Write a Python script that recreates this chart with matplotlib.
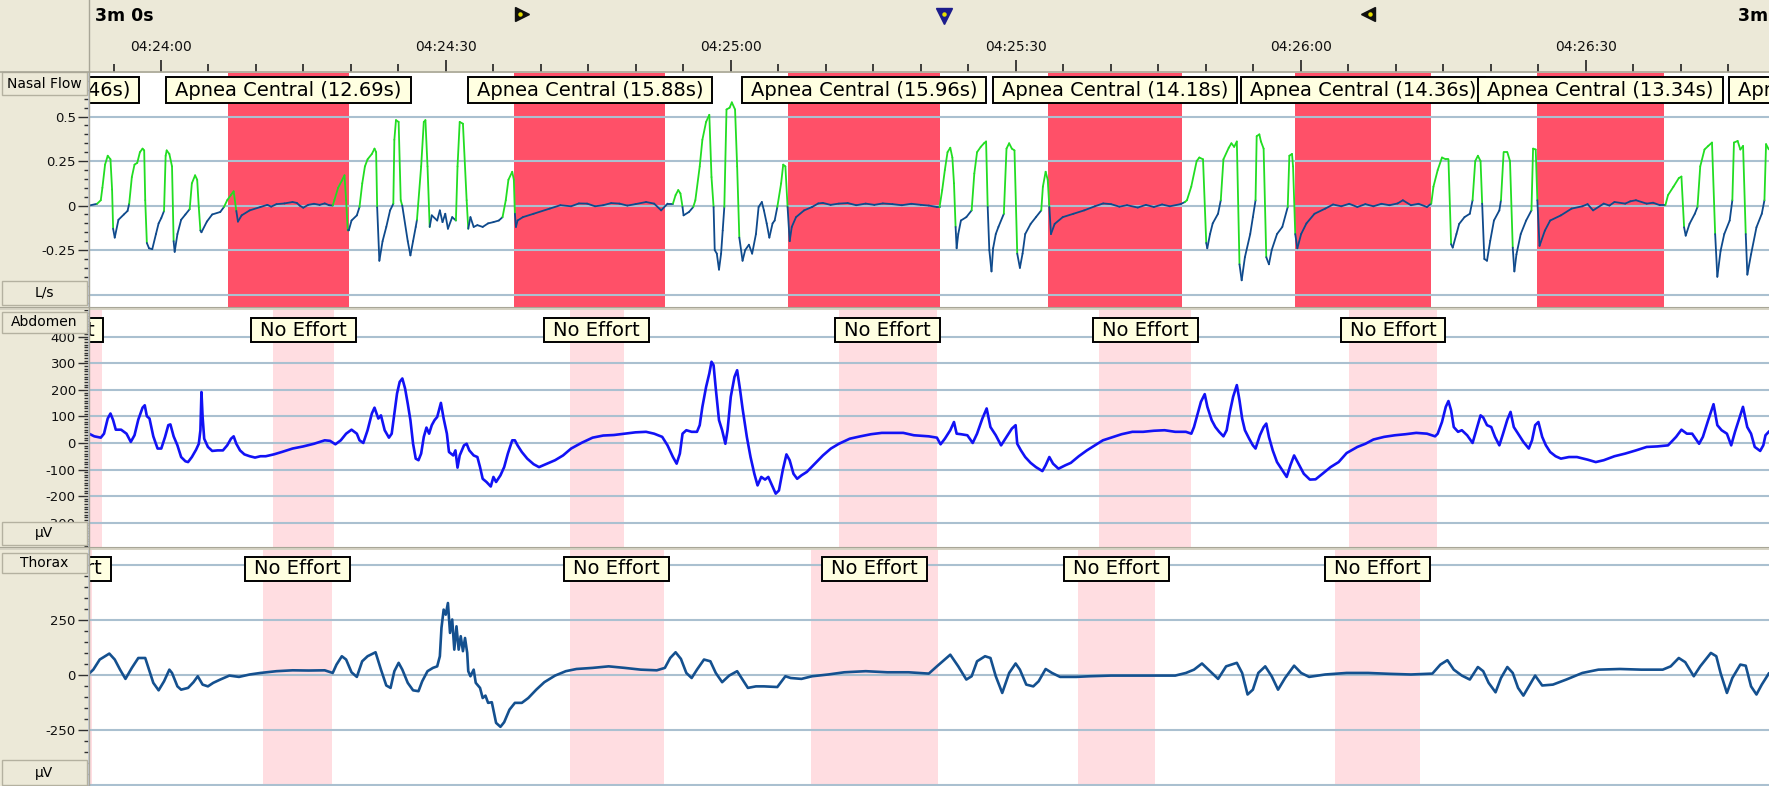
import numpy as np
import matplotlib
matplotlib.use("Agg")
import matplotlib.pyplot as plt
import matplotlib.transforms as mtrans
from matplotlib.collections import LineCollection
from matplotlib.patches import Rectangle
from matplotlib.ticker import MultipleLocator

plt.rcParams['font.family'] = ['DejaVu Sans']

W, H, DPI = 1769, 786, 100

# ---------------------------------------------------------------- time axis
# seconds relative to 04:24:00
view_start, view_end = -7.58, 169.3
tick_secs = [0, 30, 60, 90, 120, 150]
tick_labels = ["04:24:00", "04:24:30", "04:25:00", "04:25:30", "04:26:00", "04:26:30"]
cursor_secs = [38.0, 82.4, 127.1]
window_label = "3m 0s"

# ---------------------------------------------------------------- scored events
apnea_start = [-21.9, 7.08, 37.21, 66.02, 93.36, 119.37, 144.88, 171.0]
apnea_dur = [13.46, 12.69, 15.88, 15.96, 14.18, 14.36, 13.34, 13.90]

abd_effort_start = [-17.0, 11.76, 43.06, 71.37, 98.77, 125.10]
abd_effort_end = [-6.17, 18.19, 48.70, 81.69, 108.47, 134.30]
thx_effort_start = [-14.3, 10.75, 43.06, 68.40, 96.57, 123.64]
thx_effort_end = [-7.30, 17.97, 52.93, 81.80, 104.64, 132.55]

# ---------------------------------------------------------------- Nasal Flow (L/s)
flow_t = [
    -7.58, -6.73, -6.34, -6.17, -5.89, -5.61, -5.32, -5.15, -5.04, -4.87,
    -4.48, -3.91, -3.52, -3.35, -3.07, -2.79, -2.50, -2.22, -1.94, -1.77,
    -1.66, -1.49, -1.26, -0.92, -0.53, -0.25, 0.03, 0.32, 0.49, 0.60,
    0.88, 1.16, 1.33, 1.44, 1.73, 2.12, 2.57, 3.02, 3.25, 3.59,
    3.81, 3.98, 4.15, 4.26, 4.83, 5.39, 6.24, 6.63, 6.97, 7.37,
    7.65, 7.93, 8.10, 8.49, 9.34, 10.47, 11.20, 11.60, 12.16, 13.00,
    13.85, 14.30, 14.60, 14.98, 15.50, 16.11, 16.70, 17.24, 17.70, 18.08,
    18.25, 18.65, 19.04, 19.32, 19.49, 19.66, 19.77, 20.06, 20.62, 20.90,
    21.19, 21.47, 21.75, 22.20, 22.48, 22.65, 22.76, 22.99, 23.33, 23.72,
    24.12, 24.46, 24.57, 24.74, 25.02, 25.24, 25.40, 25.98, 26.26, 26.54,
    26.82, 26.95, 27.39, 27.67, 27.84, 28.06, 28.29, 28.51, 29.08, 29.36,
    29.64, 29.93, 30.21, 30.66, 31.05, 31.22, 31.45, 31.79, 32.18, 32.35,
    32.58, 32.92, 33.31, 33.87, 34.44, 35.00, 35.57, 35.96, 36.30, 36.58,
    36.98, 37.15, 37.26, 37.37, 37.54, 38.10, 39.23, 40.93, 42.05, 43.18,
    44.00, 44.87, 45.70, 46.56, 47.40, 48.26, 49.10, 49.95, 51.07, 51.92,
    52.66, 53.33, 53.90, 54.18, 54.46, 54.69, 54.91, 55.02, 55.59, 56.04,
    56.26, 56.72, 57.00, 57.39, 57.73, 57.96, 58.18, 58.30, 58.52, 58.75,
    58.97, 59.14, 59.31, 59.54, 59.87, 60.10, 60.44, 60.66, 60.89, 61.23,
    61.51, 61.90, 62.24, 62.64, 62.92, 63.26, 63.48, 63.77, 64.05, 64.39,
    64.61, 64.89, 65.29, 65.51, 65.74, 65.97, 66.19, 66.41, 66.86, 67.71,
    68.55, 69.20, 69.68, 70.50, 71.37, 72.30, 73.20, 74.19, 75.10, 76.00,
    77.01, 78.00, 79.00, 80.00, 80.84, 81.69, 81.97, 82.25, 82.53, 82.81,
    83.10, 83.32, 83.49, 83.66, 83.77, 83.94, 84.22, 84.79, 85.35, 85.63,
    85.92, 86.31, 86.65, 86.87, 87.04, 87.21, 87.44, 87.61, 87.89, 88.17,
    88.74, 89.02, 89.30, 89.58, 89.86, 90.15, 90.43, 90.71, 90.99, 91.56,
    92.12, 92.68, 92.85, 93.14, 93.36, 93.53, 93.70, 94.09, 94.94, 96.07,
    97.20, 98.32, 99.20, 100.02, 100.90, 101.71, 102.84, 103.70, 104.53, 105.40,
    106.22, 107.35, 107.80, 108.02, 108.47, 109.04, 109.32, 109.71, 110.05, 110.16,
    110.45, 110.73, 111.29, 111.58, 111.86, 112.42, 112.70, 112.99, 113.27, 113.55,
    113.78, 114.12, 114.68, 114.96, 115.24, 115.36, 115.64, 115.81, 116.09, 116.37,
    116.65, 116.94, 117.50, 118.06, 118.63, 118.80, 119.08, 119.19, 119.42, 119.64,
    120.04, 120.60, 121.45, 122.58, 123.40, 124.27, 125.10, 125.96, 126.80, 127.65,
    128.50, 129.34, 130.20, 130.75, 131.60, 132.40, 133.29, 133.74, 133.97, 134.42,
    134.87, 135.27, 135.55, 135.83, 136.00, 136.39, 136.68, 137.24, 137.80, 138.09,
    138.37, 138.65, 138.93, 139.10, 139.33, 139.61, 139.95, 140.34, 140.91, 141.08,
    141.36, 141.75, 142.03, 142.32, 142.49, 142.71, 143.16, 143.73, 144.29, 144.46,
    144.74, 144.91, 145.14, 145.70, 146.26, 147.39, 148.52, 149.65, 150.20, 150.78,
    151.90, 152.50, 153.03, 154.16, 154.70, 155.29, 156.42, 157.10, 157.82, 158.39,
    158.67, 159.24, 159.80, 160.08, 160.36, 160.53, 160.93, 161.49, 161.77, 162.06,
    162.51, 162.90, 163.30, 163.63, 163.86, 164.20, 164.59, 165.16, 165.44, 165.61,
    166.00, 166.28, 166.57, 166.85, 167.02, 167.41, 167.98, 168.54, 168.82, 168.99,
    169.27,
]
flow_v = [
    0.00, 0.01, 0.03, 0.10, 0.23, 0.28, 0.26, 0.09, -0.13, -0.18,
    -0.08, -0.05, -0.03, 0.01, 0.16, 0.23, 0.24, 0.30, 0.32, 0.31,
    0.03, -0.21, -0.24, -0.245, -0.16, -0.10, -0.07, -0.03, 0.28, 0.31,
    0.29, 0.22, -0.20, -0.26, -0.16, -0.08, -0.05, -0.02, 0.125, 0.17,
    0.145, -0.01, -0.14, -0.15, -0.09, -0.05, -0.036, -0.008, 0.03, 0.06,
    0.08, -0.03, -0.09, -0.055, -0.027, -0.008, 0.004, -0.006, 0.008, 0.012,
    0.02, 0.015, 0.0, -0.012, 0.004, 0.01, 0.004, 0.012, 0.002, 0.0,
    0.03, 0.10, 0.14, 0.17, 0.03, -0.14, -0.14, -0.084, -0.055, -0.008,
    0.125, 0.22, 0.26, 0.29, 0.32, 0.30, -0.01, -0.31, -0.20, -0.12,
    -0.027, 0.01, 0.37, 0.48, 0.47, 0.03, 0.0, -0.20, -0.28, -0.20,
    -0.12, -0.08, 0.22, 0.47, 0.48, 0.22, -0.12, -0.055, -0.084, -0.027,
    -0.093, -0.046, -0.13, -0.065, -0.084, 0.22, 0.47, 0.46, 0.03, -0.13,
    -0.065, -0.12, -0.11, -0.12, -0.10, -0.093, -0.084, -0.065, 0.03, 0.145,
    0.19, 0.145, -0.046, -0.12, -0.084, -0.065, -0.046, -0.017, 0.002, -0.004,
    0.012, 0.011, -0.004, 0.002, 0.014, 0.011, 0.0, 0.008, 0.02, 0.011,
    -0.027, 0.011, 0.011, 0.059, 0.087, 0.068, -0.008, -0.055, -0.036, -0.008,
    0.03, 0.22, 0.37, 0.47, 0.51, 0.16, -0.008, -0.25, -0.27, -0.36,
    -0.27, -0.14, -0.008, 0.54, 0.55, 0.58, 0.54, 0.22, -0.18, -0.31,
    -0.25, -0.22, -0.27, -0.16, -0.008, 0.02, -0.027, -0.10, -0.18, -0.10,
    -0.084, -0.008, 0.125, 0.23, 0.22, -0.008, -0.20, -0.12, -0.065, -0.027,
    -0.008, 0.012, 0.015, 0.004, 0.011, 0.014, 0.002, 0.011, 0.004, 0.012,
    0.008, 0.002, 0.01, 0.004, 0.0, -0.008, -0.008, 0.087, 0.20, 0.30,
    0.325, 0.27, 0.125, -0.12, -0.24, -0.16, -0.084, -0.065, -0.027, 0.18,
    0.30, 0.33, 0.35, 0.36, -0.008, -0.25, -0.37, -0.24, -0.16, -0.12,
    -0.046, 0.32, 0.35, 0.32, 0.31, -0.27, -0.35, -0.27, -0.16, -0.103,
    -0.065, -0.027, 0.106, 0.19, 0.145, -0.008, -0.16, -0.103, -0.065, -0.046,
    -0.027, -0.004, 0.012, 0.008, -0.006, 0.002, -0.011, 0.004, -0.008, 0.006,
    -0.004, 0.008, 0.02, 0.03, 0.106, 0.25, 0.27, 0.26, -0.21, -0.24,
    -0.16, -0.10, -0.046, 0.03, 0.26, 0.325, 0.35, 0.33, 0.36, -0.33,
    -0.42, -0.29, -0.16, -0.065, 0.03, 0.39, 0.40, 0.36, 0.32, -0.29,
    -0.33, -0.25, -0.16, -0.12, -0.008, 0.28, 0.29, 0.22, -0.16, -0.24,
    -0.16, -0.10, -0.046, -0.017, 0.006, -0.004, 0.01, -0.008, 0.008, -0.004,
    0.01, 0.002, 0.012, 0.03, 0.002, 0.01, -0.008, 0.011, 0.106, 0.20,
    0.27, 0.26, 0.26, -0.217, -0.236, -0.16, -0.103, -0.065, -0.046, 0.03,
    0.25, 0.28, 0.25, 0.011, -0.30, -0.31, -0.198, -0.084, -0.027, 0.03,
    0.30, 0.30, 0.25, -0.236, -0.37, -0.274, -0.16, -0.084, -0.027, 0.32,
    0.315, 0.03, -0.226, -0.141, -0.084, -0.055, -0.017, -0.004, 0.008, -0.027,
    0.011, 0.0, 0.02, 0.011, 0.024, 0.03, 0.011, 0.016, 0.002, 0.002,
    0.059, 0.106, 0.154, 0.163, -0.122, -0.169, -0.103, -0.046, -0.008, 0.22,
    0.315, 0.335, 0.354, -0.16, -0.40, -0.255, -0.16, -0.084, 0.03, 0.354,
    0.363, 0.315, 0.335, -0.16, -0.388, -0.274, -0.122, -0.046, 0.03, 0.345,
    0.316,
]
# inspiratory phases of the flow signal (drawn in green)
insp_start = [-6.73, -3.35, 0.32, 3.02, 6.63, 18.08, 20.90, 24.46, 26.95, 31.05,
              35.96, 53.90, 56.04, 59.31, 64.89, 81.97, 85.35, 88.74, 92.68, 107.80,
              111.58, 115.24, 118.63, 133.74, 138.09, 141.08, 144.29, 158.39, 161.77, 165.44,
              168.82]
insp_end = [-5.04, -1.49, 1.33, 4.15, 7.93, 19.66, 22.76, 25.40, 28.29, 32.35,
            37.26, 54.91, 58.18, 60.89, 65.97, 83.66, 87.04, 90.15, 93.53, 110.05,
            113.55, 116.37, 119.42, 135.83, 139.10, 142.32, 144.91, 160.36, 163.63, 166.85,
            169.40]

# ---------------------------------------------------------------- Abdomen (uV)
abd_t = [
    -7.58, -7.02, -6.34, -6.00, -5.61, -5.32, -5.04, -4.76, -4.20, -3.63,
    -3.18, -2.79, -2.39, -1.94, -1.71, -1.49, -1.21, -0.81, -0.36, 0.03,
    0.43, 0.77, 0.99, 1.33, 1.73, 2.12, 2.57, 2.85, 3.25, 3.70,
    3.98, 4.15, 4.26, 4.38, 4.55, 4.94, 5.39, 5.96, 6.52, 6.97,
    7.37, 7.65, 7.93, 8.32, 8.78, 9.34, 9.90, 10.47, 11.03, 11.88,
    12.72, 13.85, 14.98, 16.11, 17.24, 17.80, 18.36, 18.93, 19.49, 20.06,
    20.62, 20.90, 21.30, 21.75, 22.20, 22.48, 22.88, 23.16, 23.55, 24.00,
    24.29, 24.57, 24.85, 25.13, 25.41, 25.70, 25.98, 26.26, 26.54, 26.82,
    27.11, 27.39, 27.67, 27.95, 28.23, 28.51, 28.80, 29.08, 29.47, 29.76,
    30.10, 30.32, 30.77, 31.00, 31.22, 31.45, 31.90, 32.18, 32.46, 32.92,
    33.31, 33.59, 33.87, 34.27, 34.72, 35.00, 35.28, 35.74, 36.13, 36.52,
    36.98, 37.26, 37.54, 37.99, 38.56, 39.23, 39.80, 40.64, 41.49, 42.33,
    43.18, 44.31, 45.44, 46.56, 47.69, 48.82, 49.95, 51.07, 51.92, 52.77,
    53.33, 53.90, 54.29, 54.63, 54.91, 55.31, 55.87, 56.43, 56.72, 57.00,
    57.39, 57.73, 57.96, 58.18, 58.41, 58.75, 59.08, 59.42, 59.65, 59.99,
    60.38, 60.66, 60.95, 61.23, 61.68, 62.07, 62.47, 62.81, 63.20, 63.60,
    63.94, 64.33, 64.72, 65.06, 65.46, 65.85, 66.19, 66.59, 66.98, 67.43,
    68.00, 68.84, 69.69, 70.53, 71.38, 72.51, 73.64, 74.76, 75.89, 77.02,
    78.15, 79.27, 80.84, 81.69, 82.08, 82.53, 83.10, 83.49, 83.77, 84.22,
    84.90, 85.46, 85.92, 86.48, 86.93, 87.33, 87.89, 88.45, 89.02, 89.58,
    89.98, 90.15, 90.54, 90.99, 91.56, 92.12, 92.80, 93.14, 93.53, 93.92,
    94.49, 95.22, 95.79, 96.63, 97.48, 98.32, 99.17, 100.02, 101.14, 102.27,
    103.40, 104.53, 105.66, 106.78, 107.91, 108.48, 108.76, 109.15, 109.49, 109.89,
    110.17, 110.62, 111.01, 111.41, 111.86, 112.20, 112.54, 112.88, 113.27, 113.55,
    113.83, 114.12, 114.57, 114.96, 115.24, 115.70, 116.09, 116.37, 116.65, 117.05,
    117.50, 118.06, 118.52, 118.91, 119.30, 119.76, 120.32, 120.96, 121.56, 122.29,
    123.14, 123.99, 124.83, 125.96, 126.81, 127.65, 128.78, 129.91, 131.04, 132.16,
    133.29, 134.14, 134.42, 134.87, 135.27, 135.55, 135.83, 136.11, 136.56, 136.96,
    137.52, 138.09, 138.48, 138.93, 139.21, 139.61, 140.06, 140.45, 140.91, 141.30,
    141.75, 142.09, 142.43, 142.88, 143.44, 144.01, 144.35, 144.68, 145.02, 145.42,
    145.81, 146.26, 146.83, 147.39, 148.24, 149.08, 150.21, 151.06, 151.90, 153.03,
    154.16, 155.29, 156.42, 157.54, 158.67, 159.52, 160.08, 160.65, 161.21, 161.94,
    162.34, 162.90, 163.46, 163.86, 164.31, 164.87, 165.32, 165.72, 166.11, 166.56,
    167.01, 167.41, 167.80, 168.37, 168.70, 168.93, 169.27,
]
abd_v = [
    35, 25, 20, 35, 92, 111, 86, 50, 50, 35,
    4, 29, 88, 133, 142, 101, 92, 25, -21, -21,
    23, 67, 70, 25, -9, -53, -69, -72, -53, -25,
    -3, 48, 192, 98, 16, -15, -30, -28, -28, -9,
    16, 25, -3, -28, -43, -50, -55, -50, -50, -43,
    -34, -21, -13, -3, 10, 8, -5, 10, 35, 50,
    35, 10, 0, 48, 111, 133, 92, 104, 48, 20,
    35, 111, 186, 230, 243, 205, 148, 86, -3, -59,
    -65, -40, 23, 58, 35, 67, 86, 98, 151, 92,
    35, -34, -47, -28, -93, -47, -9, -3, -28, -47,
    -53, -91, -135, -147, -164, -128, -147, -122, -91, -40,
    10, 10, -9, -34, -59, -80, -91, -78, -65, -47,
    -21, 1, 20, 28, 30, 35, 40, 42, 35, 23,
    -9, -53, -78, -40, 35, 48, 42, 42, 67, 136,
    211, 262, 306, 293, 205, 86, 48, -3, 48, 174,
    249, 274, 205, 130, 23, -53, -116, -160, -128, -138,
    -128, -160, -191, -179, -103, -43, -65, -116, -135, -122,
    -109, -78, -47, -21, -3, 16, 25, 33, 38, 38,
    38, 29, 25, 20, -5, 16, 48, 79, 35, 33,
    29, 0, 35, 92, 130, 60, 29, -9, 23, 54,
    67, -3, -28, -53, -75, -91, -106, -84, -53, -78,
    -97, -84, -75, -50, -28, -9, 10, 20, 33, 42,
    42, 46, 48, 42, 42, 35, 60, 111, 155, 184,
    136, 86, 60, 42, 25, 48, 117, 174, 218, 161,
    92, 48, 16, -9, -21, 29, 60, 73, 23, -28,
    -72, -103, -128, -84, -47, -78, -116, -138, -137, -116,
    -91, -72, -38, -15, -3, 13, 23, 29, 33, 38,
    35, 25, 35, 79, 136, 158, 123, 60, 42, 48,
    29, 0, 48, 104, 96, 67, 60, 23, -9, 35,
    88, 117, 60, 35, 4, -21, 10, 67, 79, 23,
    -9, -34, -50, -59, -53, -53, -63, -72, -65, -50,
    -40, -28, -15, -13, -9, 23, 50, 35, 35, -3,
    23, 86, 146, 67, 48, 35, -9, 42, 86, 136,
    60, 35, -15, -30, -9, 29, 42,
]

# ---------------------------------------------------------------- Thorax (uV)
thx_t = [
    -7.58, -7.13, -6.45, -5.44, -4.87, -4.31, -3.74, -3.07, -2.39, -1.66,
    -1.26, -0.81, -0.25, 0.32, 0.88, 1.16, 1.73, 2.12, 2.85, 3.42,
    3.87, 4.38, 4.94, 5.50, 6.24, 7.20, 8.21, 9.34, 10.47, 12.16,
    13.85, 15.54, 17.24, 18.08, 18.48, 19.04, 19.49, 20.06, 20.62, 21.18,
    21.75, 22.59, 23.16, 23.72, 24.17, 24.57, 25.02, 25.41, 25.98, 26.54,
    27.11, 27.50, 28.06, 28.63, 29.08, 29.36, 29.53, 29.76, 29.98, 30.21,
    30.43, 30.66, 30.88, 31.11, 31.34, 31.56, 31.79, 32.01, 32.24, 32.35,
    32.58, 32.92, 33.14, 33.59, 33.87, 34.16, 34.44, 34.83, 35.28, 35.74,
    36.13, 36.69, 37.26, 37.99, 38.67, 39.51, 40.36, 41.49, 42.62, 43.74,
    45.44, 47.13, 48.82, 50.51, 52.20, 53.05, 53.61, 54.18, 54.74, 55.31,
    55.87, 56.43, 57.17, 57.84, 58.41, 59.08, 59.82, 60.66, 61.23, 61.79,
    62.64, 63.48, 64.89, 65.74, 66.30, 67.43, 68.56, 70.25, 71.94, 74.20,
    76.46, 78.71, 80.84, 81.69, 83.10, 83.94, 84.79, 85.35, 85.92, 86.76,
    87.33, 87.89, 88.57, 89.30, 89.98, 90.43, 91.10, 91.84, 92.40, 93.14,
    93.81, 94.66, 96.35, 97.76, 100.02, 102.27, 104.53, 106.78, 107.91, 108.76,
    109.60, 110.28, 111.30, 112.14, 113.27, 113.83, 114.40, 114.96, 115.53, 116.26,
    116.94, 117.61, 118.35, 119.30, 120.04, 120.88, 122.58, 124.83, 127.09, 129.34,
    131.60, 133.86, 134.70, 135.44, 136.11, 136.96, 137.80, 138.65, 139.21, 139.78,
    140.51, 141.08, 141.75, 142.32, 142.88, 143.44, 144.01, 144.68, 145.42, 146.55,
    147.96, 149.65, 151.34, 153.60, 155.85, 158.11, 158.95, 159.80, 160.48, 161.38,
    162.06, 163.18, 163.75, 164.20, 164.87, 165.44, 166.28, 166.85, 167.41, 167.98,
    168.54, 169.27,
]
thx_v = [
    6, 24, 70, 97, 70, 24, -18, 32, 77, 77,
    24, -36, -70, -29, 24, 9, -52, -67, -59, -33,
    -6, -44, -52, -36, -21, -3, -9, 2, 9, 17,
    21, 20, 21, 9, 47, 85, 70, 12, -9, 62,
    85, 103, 24, -48, -59, 17, 55, 24, -36, -70,
    -74, -29, 17, 32, 39, 85, 214, 297, 274, 327,
    191, 252, 115, 221, 115, 176, 108, 168, 100, 17,
    -6, 24, -36, -59, -105, -94, -127, -124, -218, -236,
    -215, -158, -127, -127, -105, -67, -33, -3, 17, 27,
    32, 39, 32, 24, 21, 32, 77, 103, 73, 9,
    -14, 24, 70, 62, 9, -33, -3, 17, -21, -59,
    -52, -52, -55, -6, -14, -18, -6, 2, 12, 17,
    12, 12, 6, 39, 92, 39, -21, -6, 62, 85,
    77, -6, -82, 9, 52, 24, -44, -52, -29, 27,
    9, -9, -9, -6, -3, -3, -3, -3, 9, 24,
    52, 24, -18, 39, 55, 9, -89, -67, 9, 39,
    -6, -67, -14, 42, 9, -9, 2, 9, 9, 5,
    2, 6, 47, 67, 24, -3, -21, 36, 17, -36,
    -79, -14, 36, 9, -59, -94, -52, -3, -48, -44,
    -21, 9, 24, 27, 24, 24, 39, 77, 58, -6,
    39, 100, 85, 9, -82, -14, 47, 42, -52, -89,
    -44, 6,
]

# ---------------------------------------------------------------- channel axes
flow_ticks = [-0.5, -0.25, 0, 0.25, 0.5]
flow_tick_labels = ["-0.5", "-0.25", "0", "0.25", "0.5"]
abd_ticks = [-300, -200, -100, 0, 100, 200, 300, 400]
abd_tick_labels = ["-300", "-200", "-100", "0", "100", "200", "300", "400"]
thx_ticks = [-500, -250, 0, 250, 500]
thx_tick_labels = ["-500", "-250", "0", "250", "500"]

channel_names = ["Nasal Flow", "Abdomen", "Thorax"]
channel_units = ["L/s", "µV", "µV"]

# ---------------------------------------------------------------- styling
BEIGE = '#ece9d8'
GRID = '#aac0d0'
RED = '#ff5068'
PINK = '#ffdde1'
NOTE = '#ffffe1'
GREEN = '#22dd22'
FLOW_BLUE = '#0f4a8c'
ABD_BLUE = '#1212f5'
THX_BLUE = '#14508f'

fig = plt.figure(figsize=(W / DPI, H / DPI), dpi=DPI, facecolor=BEIGE)


def px_rect(x0, y0, x1, y1):
    return [x0 / W, 1 - y1 / H, (x1 - x0) / W, (y1 - y0) / H]


X0 = 89
ROWS = {'hdr': (0, 72), 'flow': (73, 307), 'abd': (310, 547), 'thx': (550, 786)}

hdr = fig.add_axes(px_rect(X0, *[ROWS['hdr'][0]], W, ROWS['hdr'][1]) if False else px_rect(X0, ROWS['hdr'][0], W, ROWS['hdr'][1]))
ax_flow = fig.add_axes(px_rect(X0, ROWS['flow'][0], W, ROWS['flow'][1]))
ax_abd = fig.add_axes(px_rect(X0, ROWS['abd'][0], W, ROWS['abd'][1]))
ax_thx = fig.add_axes(px_rect(X0, ROWS['thx'][0], W, ROWS['thx'][1]))

panels = [
    (ax_flow, (-0.57, 0.745), flow_ticks, flow_tick_labels, 0.05),
    (ax_abd, (-392, 501), abd_ticks, abd_tick_labels, 10),
    (ax_thx, (-505, 568), thx_ticks, thx_tick_labels, 50),
]
for ax, ylim, ticks, labels, minor in panels:
    ax.set_facecolor('white')
    ax.set_xlim(view_start, view_end)
    ax.set_ylim(*ylim)
    for side in ('top', 'right', 'bottom'):
        ax.spines[side].set_visible(False)
    ax.spines['left'].set_color('#c3cde0')
    ax.spines['left'].set_linewidth(1.2)
    ax.set_xticks([])
    ax.set_yticks(ticks)
    ax.set_yticklabels(labels)
    ax.yaxis.set_minor_locator(MultipleLocator(minor))
    ax.tick_params(axis='y', which='major', length=8, width=1.0, color='#303030',
                   pad=1.5, labelsize=9.5, labelcolor='#101010')
    ax.tick_params(axis='y', which='minor', length=3.6, width=1.0, color='#303030')
    for v in ticks:
        ax.axhline(v, color=GRID, lw=1.5, zorder=1.5)

# event shading
for s, d in zip(apnea_start, apnea_dur):
    ax_flow.axvspan(s, s + d, color=RED, lw=0, zorder=1)
for s, e in zip(abd_effort_start, abd_effort_end):
    ax_abd.axvspan(s, e, color=PINK, lw=0, zorder=1)
for s, e in zip(thx_effort_start, thx_effort_end):
    ax_thx.axvspan(s, e, color=PINK, lw=0, zorder=1)

# nasal flow: inspiration green, expiration dark blue
ft = np.asarray(flow_t)
fv = np.asarray(flow_v)
pts = np.column_stack([ft, fv])
segs = np.stack([pts[:-1], pts[1:]], axis=1)
mid = (ft[:-1] + ft[1:]) / 2
insp = np.zeros(len(mid), dtype=bool)
for s, e in zip(insp_start, insp_end):
    insp |= (mid > s) & (mid < e)
cols = [GREEN if g else FLOW_BLUE for g in insp]
ax_flow.add_collection(LineCollection(segs, colors=cols, linewidths=1.3,
                                      capstyle='round', joinstyle='round', zorder=3))

ax_abd.plot(abd_t, abd_v, color=ABD_BLUE, lw=1.9, zorder=3, solid_joinstyle='round')
ax_thx.plot(thx_t, thx_v, color=THX_BLUE, lw=1.9, zorder=3, solid_joinstyle='round')

# ---------------------------------------------------------------- event notes
pending = []


def add_notes(ax, centers, texts, box_rows, panel_rows):
    top, bot = panel_rows
    y0 = (bot - box_rows[1]) / (bot - top)
    y1 = (bot - box_rows[0]) / (bot - top)
    trans = mtrans.blended_transform_factory(ax.transData, ax.transAxes)
    for i, (c, s) in enumerate(zip(centers, texts)):
        z = 6 + 2 * i
        t = ax.text(c, (y0 + y1) / 2, s, transform=trans, ha='center', va='center',
                    fontsize=14, color='black', zorder=z + 1, clip_on=True)
        pending.append((ax, t, trans, y0, y1, z))


apnea_centers = [s + d / 2 for s, d in zip(apnea_start, apnea_dur)]
apnea_texts = [f"Apnea Central ({d:.2f}s)" for d in apnea_dur]
add_notes(ax_flow, apnea_centers, apnea_texts, (77, 103), ROWS['flow'])
add_notes(ax_abd, [(s + e) / 2 for s, e in zip(abd_effort_start, abd_effort_end)],
          ["No Effort"] * len(abd_effort_start), (318, 342), ROWS['abd'])
add_notes(ax_thx, [(s + e) / 2 for s, e in zip(thx_effort_start, thx_effort_end)],
          ["No Effort"] * len(thx_effort_start), (557, 581), ROWS['thx'])

# ---------------------------------------------------------------- header ruler
hdr.set_facecolor(BEIGE)
hdr.set_xlim(view_start, view_end)
hdr.set_ylim(0, 1)
for sp in hdr.spines.values():
    sp.set_visible(False)
hdr.set_yticks([])
hdr.set_xticks(tick_secs)
hdr.set_xticklabels([])
hdr.xaxis.set_minor_locator(MultipleLocator(5))
hdr.tick_params(axis='x', which='major', direction='in', length=9, width=1.2,
                color='#202020', labelbottom=False)
hdr.tick_params(axis='x', which='minor', direction='in', length=5.5, width=1.2,
                color='#202020')
htrans = mtrans.blended_transform_factory(hdr.transData, hdr.transAxes)
for t, lab in zip(tick_secs, tick_labels):
    hdr.text(t, 0.35, lab, transform=htrans, ha='center', va='center', fontsize=10,
             color='#101010')
hdr.plot([cursor_secs[0]], [0.81], marker='>', ms=10, color='#101010', transform=htrans)
hdr.plot([cursor_secs[0] - 0.15], [0.81], marker='o', ms=2.2, color='#e8e000', transform=htrans)
hdr.plot([cursor_secs[1]], [0.78], marker='v', ms=11, color='#1c1c8c', transform=htrans)
hdr.plot([cursor_secs[1]], [0.80], marker='o', ms=2.2, color='#e8e000', transform=htrans)
hdr.plot([cursor_secs[2]], [0.81], marker='<', ms=10, color='#101010', transform=htrans)
hdr.plot([cursor_secs[2] + 0.15], [0.81], marker='o', ms=2.2, color='#e8e000', transform=htrans)

# ---------------------------------------------------------------- frame overlay
ov = fig.add_axes([0, 0, 1, 1], zorder=20)
ov.set_xlim(0, W)
ov.set_ylim(H, 0)
ov.axis('off')
ov.patch.set_alpha(0)

ov.text(95, 16, window_label, ha='left', va='center', fontsize=12.5, fontweight='bold')
ov.text(1738, 16, window_label, ha='left', va='center', fontsize=12.5, fontweight='bold',
        clip_on=True)

ov.plot([0, W], [72, 72], color='#a8a697', lw=1.2)
ov.plot([88.5, 88.5], [0, H], color='#a8a697', lw=1.0)
for y0, y1 in [(307, 310), (547, 550)]:
    ov.add_patch(Rectangle((0, y0), W, y1 - y0, fc='#d6d3c4', ec='none'))
    ov.plot([0, W], [y0, y0], color='#a8a697', lw=0.8)

name_rows = [(72, 95), (312, 333), (553, 573)]
unit_rows = [(281, 305), (522, 545), (760, 785)]
for name, (a, b) in zip(channel_names, name_rows):
    ov.add_patch(Rectangle((2, a), 85, b - a, fc=BEIGE, ec='#b4b1a0', lw=1.0))
    ov.text(44.5, (a + b) / 2, name, ha='center', va='center', fontsize=10)
for unit, (a, b) in zip(channel_units, unit_rows):
    ov.add_patch(Rectangle((2, a), 85, b - a, fc=BEIGE, ec='#b4b1a0', lw=1.0))
    ov.text(44.5, (a + b) / 2, unit, ha='center', va='center', fontsize=10)

# boxes behind the event notes, sized from the rendered text
fig.canvas.draw()
renderer = fig.canvas.get_renderer()
for ax, t, trans, y0, y1, z in pending:
    bb = t.get_window_extent(renderer)
    inv = ax.transData.inverted()
    xa = inv.transform((bb.x0 - 9, 0))[0]
    xb = inv.transform((bb.x1 + 9, 0))[0]
    ax.add_patch(Rectangle((xa, y0), xb - xa, y1 - y0, transform=trans, fc=NOTE,
                           ec='black', lw=1.4, zorder=z, clip_on=True))

fig.savefig("out.png", dpi=DPI, facecolor=BEIGE)
